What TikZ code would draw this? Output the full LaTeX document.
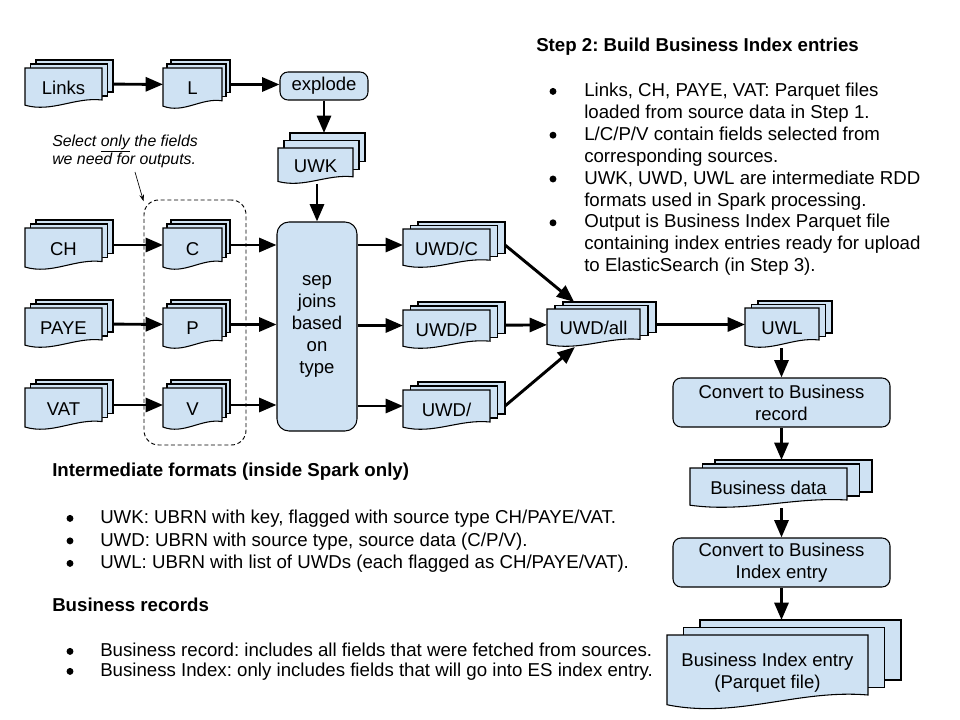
\documentclass[tikz,border=0pt]{standalone}
\usepackage{fontspec}
\setmainfont{Liberation Sans}
\usetikzlibrary{arrows.meta}
\frenchspacing

\definecolor{sheetblue}{HTML}{CFE2F3}

\tikzset{
  sheet/.style={draw=black, fill=sheetblue, line width=0.8pt},
  stack/.style={inner sep=0pt, outer sep=0pt},
  lbl/.style={inner sep=0pt, align=center, font=\fontsize{13.9}{16.4}\selectfont},
  proc/.style={draw=black, fill=sheetblue, line width=0.8pt, rounded corners=6pt,
    inner sep=0pt, align=center, font=\fontsize{13.9}{16.4}\selectfont},
  arr/.style={line width=2.2pt, -{Triangle[length=13pt,width=10.5pt]}},
  txt/.style={inner sep=0pt, anchor=base west, font=\fontsize{14}{16.4}\selectfont},
  head/.style={txt, font=\fontsize{14}{16.4}\selectfont\bfseries},
  dot/.style={circle, fill=black, inner sep=0pt, minimum size=5.2pt, yshift=3.9pt},
}

% stack of documents: name, left, top, width, height, dx, dy, text
\newcommand{\docstack}[8]{%
  \foreach \k in {2,1}
    \draw[sheet] ({#2+\k*#6},{#3-\k*#7}) rectangle ++(#4,{0.8*#5});
  \draw[sheet] (#2,#3) -- ++(#4,0) -- ++(0,{0.8*#5})
    .. controls ({#2+0.65*#4},{#3+0.72*#5}) and ({#2+0.35*#4},{#3+1.12*#5}) .. (#2,{#3+0.93*#5}) -- cycle;
  \node[stack, minimum width={(#4+2*#6)*0.75pt}, minimum height={(#5+2*#7)*0.75pt}]
    (#1) at ({#2+#4/2+#6},{#3+#5/2-#7}) {};
  \node[lbl] (#1-t) at ({#2+#4/2},{#3+#5/2}) {#8};
}

\begin{document}
\begin{tikzpicture}[x=0.75pt, y=-0.75pt]

\useasboundingbox (0,0) rectangle (960,720);
\fill[white] (0,0) rectangle (960,720);

% selection box
\node[draw, dash pattern=on 3pt off 2pt, line width=0.7pt, rounded corners=11pt,
  minimum width=76.5pt, minimum height=183.75pt] (sel) at (195,322.5) {};

% sources
\docstack{links}{25}{68}{77}{40}{5.5}{4}{Links}
\docstack{ch}{25}{228}{77}{42}{5.5}{4}{CH}
\docstack{paye}{25}{308}{77}{40}{5.5}{4}{PAYE}
\docstack{vat}{25}{388}{77}{42}{5.5}{4}{VAT}

% selected fields
\docstack{lsel}{163}{68}{59}{41}{4}{4}{L}
\docstack{csel}{163}{228}{59}{42}{4}{4}{C}
\docstack{psel}{163}{308}{59}{41}{4}{4}{P}
\docstack{vsel}{163}{388}{59}{42}{4}{4}{V}

% processing steps
\node[proc, minimum width=66pt, minimum height=21pt] (explode) at (324,86) {explode};
\docstack{uwk}{278}{148}{75}{36}{6}{7.5}{UWK}
\node[proc, rounded corners=9pt, minimum width=60pt, minimum height=156.75pt] (sep) at (317,326.5)
  {sep\\joins\\based\\on\\type};

\docstack{uwdc}{403}{229}{87}{39}{7.5}{3.5}{UWD/C}
\docstack{uwdp}{403}{310}{87}{39}{7.5}{4}{UWD/P}
\docstack{uwdv}{403}{390}{87}{40}{7.5}{4}{UWD/}
\docstack{uwdall}{547}{309}{93}{38}{8}{3.5}{UWD/all}
\docstack{uwl}{745}{308}{74}{40}{6.5}{3.5}{UWL}

\node[proc, minimum width=162.75pt, minimum height=36.75pt] (recconv) at (781.5,402.5)
  {Convert to Business\\record};
\docstack{bdata}{690}{468}{157}{40}{12.5}{4}{Business data}
\node[proc, minimum width=162.75pt, minimum height=36.75pt] (idxconv) at (781.5,562.5)
  {Convert to Business\\Index entry};
\docstack{bie}{667}{635}{201}{75}{16.5}{7.5}{Business Index entry\\(Parquet file)}

% arrows
\draw[arr] (links) -- (lsel);
\draw[arr] (lsel.east) -- (lsel.east -| explode.west);
\draw[arr] (explode) -- (explode |- uwk.north);
\draw[arr] (sep |- uwk.south) -- (sep.north);
\draw[arr] (ch) -- (csel);
\draw[arr] (paye) -- (psel);
\draw[arr] (vat) -- (vsel);
\draw[arr] (csel.east) -- (csel.east -| sep.west);
\draw[arr] (psel.east) -- (psel.east -| sep.west);
\draw[arr] (vsel.east) -- (vsel.east -| sep.west);
\draw[arr] (sep.east |- uwdc) -- (uwdc);
\draw[arr] (sep.east |- uwdp) -- (uwdp);
\draw[arr] (sep.east |- uwdv) -- (uwdv);
\draw[arr] (uwdc.east) -- (uwdall);
\draw[arr] (uwdp) -- (uwdall);
\draw[arr] (uwdv.east) -- (uwdall);
\draw[arr] (uwdall) -- (uwl);
\draw[arr] (recconv |- uwl.south) -- (recconv);
\draw[arr] (recconv) -- (recconv |- bdata.north);
\draw[arr] (idxconv |- bdata.south) -- (idxconv);
\draw[arr] (idxconv) -- (idxconv |- bie.north);

% note on the selection
\node[inner sep=0pt, anchor=west, align=left, font=\fontsize{11.9}{13.5}\selectfont\itshape] (note) at (52,151)
  {Select \underline{only} the fields\\we need for outputs.};
\coordinate (notetail) at (135,172);
\draw[line width=0.5pt, -{Stealth[length=5pt,width=3.5pt]}] (notetail) -- (sel.113);

% step description
\node[head] (title) at (536,51.6) {Step 2: Build Business Index entries};
\node[dot] (d1) at (553,96.6) {};
\node[txt] (t1) at (584,96.6) {Links, CH, PAYE, VAT: Parquet files};
\node[txt] (t2) at (584,118.5) {loaded from source data in Step 1.};
\node[dot] (d2) at (553,140.4) {};
\node[txt] (t3) at (584,140.4) {L/C/P/V contain fields selected from};
\node[txt] (t4) at (584,162.3) {corresponding sources.};
\node[dot] (d3) at (553,184.2) {};
\node[txt] (t5) at (584,184.2) {UWK, UWD, UWL are intermediate RDD};
\node[txt] (t6) at (584,206.1) {formats used in Spark processing.};
\node[dot] (d4) at (553,228) {};
\node[txt] (t7) at (584,228) {Output is Business Index Parquet file};
\node[txt] (t8) at (584,249.9) {containing index entries ready for upload};
\node[txt] (t9) at (584,271.8) {to ElasticSearch (in Step 3).};

% intermediate formats
\node[head] (fmt) at (52,476.6) {Intermediate formats (inside Spark only)};
\node[dot] (d5) at (70,523.6) {};
\node[txt] (f1) at (100,523.6) {UWK: UBRN with key, flagged with source type CH/PAYE/VAT.};
\node[dot] (d6) at (70,546.1) {};
\node[txt] (f2) at (100,546.1) {UWD: UBRN with source type, source data (C/P/V).};
\node[dot] (d7) at (70,568.6) {};
\node[txt] (f3) at (100,568.6) {UWL: UBRN with list of UWDs (each flagged as CH/PAYE/VAT).};

% business records
\node[head] (rec) at (52,611.6) {Business records};
\node[dot] (d8) at (70,656.6) {};
\node[txt] (r1) at (100,656.6) {Business record: includes all fields that were fetched from sources.};
\node[dot] (d9) at (70,676.6) {};
\node[txt] (r2) at (100,676.6) {Business Index: only includes fields that will go into ES index entry.};

\end{tikzpicture}
\end{document}
